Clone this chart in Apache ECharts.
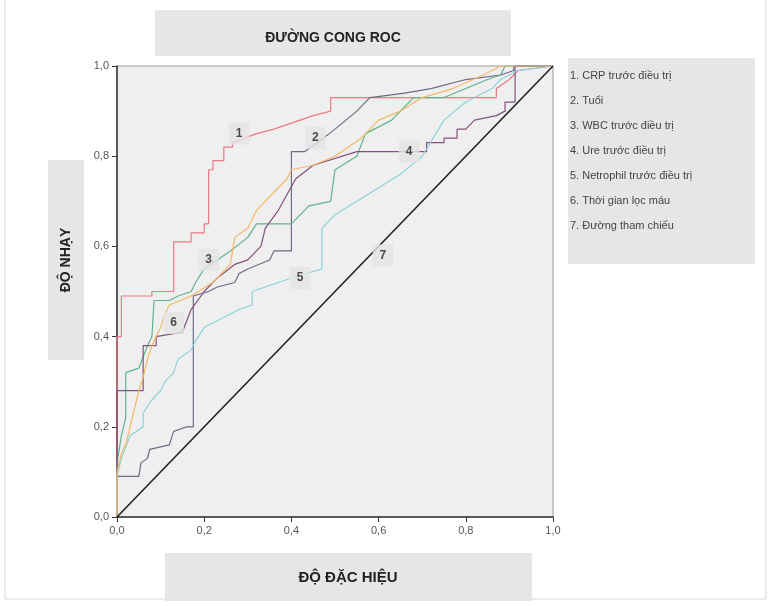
<!DOCTYPE html>
<html><head><meta charset="utf-8">
<script src="https://cdn.jsdelivr.net/npm/echarts@6/dist/echarts.min.js"></script>
<style>html,body{margin:0;padding:0;background:#fff}#c{width:774px;height:606px}</style>
</head><body><div id="c"></div>
<script>
const xTickLabels = ['0,0','0,2','0,4','0,6','0,8','1,0'];
const yTickLabels = ['0,0','0,2','0,4','0,6','0,8','1,0'];
const legendItems = ['1. CRP trước điều trị','2. Tuổi','3. WBC trước điều trị','4. Ure trước điều trị','5. Netrophil trước điều trị','6. Thời gian lọc máu','7. Đường tham chiếu'];
const seriesNames = ['CRP trước điều trị','Tuổi','WBC trước điều trị','Ure trước điều trị','Netrophil trước điều trị','Thời gian lọc máu','Đường tham chiếu'];

const crp = [[0,0],[0,0.40],[0.01,0.40],[0.01,0.49],[0.08,0.49],[0.08,0.50],[0.13,0.50],[0.13,0.61],[0.17,0.61],[0.17,0.63],[0.20,0.63],[0.20,0.65],[0.21,0.65],[0.21,0.77],[0.22,0.77],[0.22,0.79],[0.245,0.79],[0.245,0.82],[0.265,0.82],[0.265,0.83],[0.32,0.85],[0.36,0.86],[0.42,0.88],[0.45,0.89],[0.49,0.90],[0.49,0.93],[0.87,0.93],[0.87,0.95],[0.90,0.97],[0.92,0.99],[1,1]];
const tuoi = [[0,0],[0,0.09],[0.05,0.09],[0.055,0.12],[0.07,0.13],[0.075,0.15],[0.12,0.16],[0.13,0.19],[0.16,0.20],[0.175,0.20],[0.175,0.49],[0.21,0.50],[0.23,0.51],[0.27,0.52],[0.28,0.54],[0.30,0.55],[0.35,0.57],[0.36,0.59],[0.40,0.59],[0.40,0.81],[0.43,0.81],[0.46,0.83],[0.50,0.86],[0.55,0.90],[0.58,0.93],[0.66,0.94],[0.72,0.95],[0.80,0.97],[0.88,0.98],[0.91,0.99],[0.91,1.0],[1,1]];
const wbc = [[0,0],[0,0.12],[0.01,0.18],[0.02,0.22],[0.02,0.32],[0.05,0.33],[0.07,0.38],[0.08,0.40],[0.085,0.48],[0.12,0.48],[0.14,0.49],[0.17,0.50],[0.18,0.52],[0.20,0.55],[0.23,0.57],[0.26,0.59],[0.30,0.62],[0.32,0.65],[0.40,0.65],[0.44,0.69],[0.49,0.70],[0.50,0.77],[0.55,0.80],[0.57,0.85],[0.63,0.88],[0.68,0.93],[0.75,0.93],[0.80,0.95],[0.85,0.97],[0.88,0.98],[0.89,1.0],[1,1]];
const ure = [[0,0],[0,0.28],[0.06,0.28],[0.06,0.38],[0.09,0.38],[0.09,0.40],[0.15,0.41],[0.17,0.46],[0.20,0.50],[0.23,0.53],[0.27,0.56],[0.30,0.57],[0.33,0.60],[0.34,0.64],[0.37,0.68],[0.41,0.75],[0.45,0.78],[0.55,0.81],[0.71,0.81],[0.71,0.83],[0.75,0.83],[0.75,0.84],[0.78,0.84],[0.78,0.86],[0.80,0.86],[0.82,0.88],[0.87,0.89],[0.89,0.90],[0.89,0.92],[0.913,0.92],[0.913,1.0],[1,1]];
const netrophil = [[0,0],[0,0.09],[0.01,0.13],[0.03,0.18],[0.06,0.20],[0.06,0.23],[0.08,0.26],[0.10,0.28],[0.11,0.30],[0.13,0.32],[0.14,0.35],[0.17,0.37],[0.18,0.39],[0.20,0.42],[0.24,0.44],[0.28,0.46],[0.31,0.47],[0.31,0.50],[0.37,0.52],[0.40,0.53],[0.47,0.55],[0.47,0.64],[0.50,0.67],[0.55,0.70],[0.60,0.73],[0.65,0.76],[0.70,0.80],[0.75,0.88],[0.80,0.92],[0.86,0.95],[0.88,0.97],[0.92,0.99],[1,1]];
const thoigian = [[0,0],[0,0.10],[0.01,0.14],[0.02,0.16],[0.03,0.20],[0.04,0.24],[0.05,0.28],[0.06,0.31],[0.07,0.35],[0.08,0.38],[0.10,0.42],[0.11,0.45],[0.12,0.47],[0.17,0.49],[0.22,0.52],[0.26,0.56],[0.27,0.62],[0.30,0.64],[0.32,0.68],[0.36,0.72],[0.39,0.75],[0.40,0.77],[0.45,0.78],[0.50,0.80],[0.56,0.84],[0.60,0.88],[0.65,0.90],[0.70,0.93],[0.77,0.95],[0.84,0.98],[0.88,1.0],[1,1]];
const reference = [[0,0],[1,1]];
const curveLabels = ['1','2','3','4','5','6','7'];
const curveLabelPos = [[0.28,0.85],[0.455,0.84],[0.21,0.57],[0.67,0.81],[0.42,0.53],[0.13,0.43],[0.61,0.58]];

const colors = ['#ec7880','#6e6a84','#5fb48c','#85507e','#8ad3d8','#f3b865','#222222'];
const dataSets = [crp,tuoi,wbc,ure,netrophil,thoigian,reference];

const chart = echarts.init(document.getElementById('c'));
const series = dataSets.map((d,i)=>({
  name: seriesNames[i], type:'line', data:d, symbol:'none', silent:true,
  lineStyle:{color:colors[i], width: i===6?1.6:1.2}, z: 2+i
}));
series.push({
  type:'scatter', symbolSize:0, silent:true, z:20,
  data: curveLabelPos.map((p,i)=>({value:p, name:curveLabels[i]})),
  label:{show:true, position:'inside', formatter:p=>p.name, color:'#222', fontSize:12, fontWeight:'bold',
    fontFamily:'Liberation Sans', backgroundColor:'#e4e4e4', padding:[5,7]}
});

const legendRows = legendItems.map((t,i)=>({type:'text', left:570, top:70+i*25,
  style:{text:t, fill:'#444', font:'11px "Liberation Sans"'}}));

chart.setOption({
  animation:false,
  grid:{left:117, top:66, right:221, bottom:89, show:true, backgroundColor:'#efefef', borderColor:'#9a9a9a', borderWidth:1},
  xAxis:{type:'value', min:0, max:1, interval:0.2,
    axisLine:{show:true, lineStyle:{color:'#333', width:1.5}},
    axisTick:{show:true, length:5, lineStyle:{color:'#333'}},
    axisLabel:{formatter:v=>xTickLabels[Math.round(v/0.2)], color:'#555', fontSize:11, fontFamily:'Liberation Sans', margin:8},
    splitLine:{show:false}},
  yAxis:{type:'value', min:0, max:1, interval:0.2,
    axisLine:{show:true, lineStyle:{color:'#333', width:1.5}},
    axisTick:{show:true, length:5, lineStyle:{color:'#333'}},
    axisLabel:{formatter:v=>yTickLabels[Math.round(v/0.2)], color:'#555', fontSize:11, fontFamily:'Liberation Sans', margin:8},
    splitLine:{show:false}},
  graphic:[
    {type:'rect', shape:{x:5,y:-2,width:761,height:601}, style:{fill:'none', stroke:'#d8d8d8', lineWidth:1}, z:-10},
    {type:'rect', shape:{x:155,y:10,width:356,height:46}, style:{fill:'#e6e6e6'}, z:-5},
    {type:'text', x:333, y:38, style:{text:'ĐƯỜNG CONG ROC', fill:'#222', font:'bold 14px "Liberation Sans"', align:'center', verticalAlign:'middle'}},
    {type:'rect', shape:{x:48,y:160,width:36,height:200}, style:{fill:'#e6e6e6'}, z:-5},
    {type:'text', x:66, y:260, rotation:Math.PI/2, style:{text:'ĐỘ NHẠY', fill:'#222', font:'bold 14px "Liberation Sans"', align:'center', verticalAlign:'middle'}},
    {type:'rect', shape:{x:165,y:553,width:367,height:48}, style:{fill:'#e6e6e6'}, z:-5},
    {type:'text', x:348, y:578, style:{text:'ĐỘ ĐẶC HIỆU', fill:'#222', font:'bold 15px "Liberation Sans"', align:'center', verticalAlign:'middle'}},
    {type:'rect', shape:{x:568,y:58,width:187,height:206}, style:{fill:'#e6e6e6'}, z:-5},
    ...legendRows
  ],
  series
});
</script></body></html>
